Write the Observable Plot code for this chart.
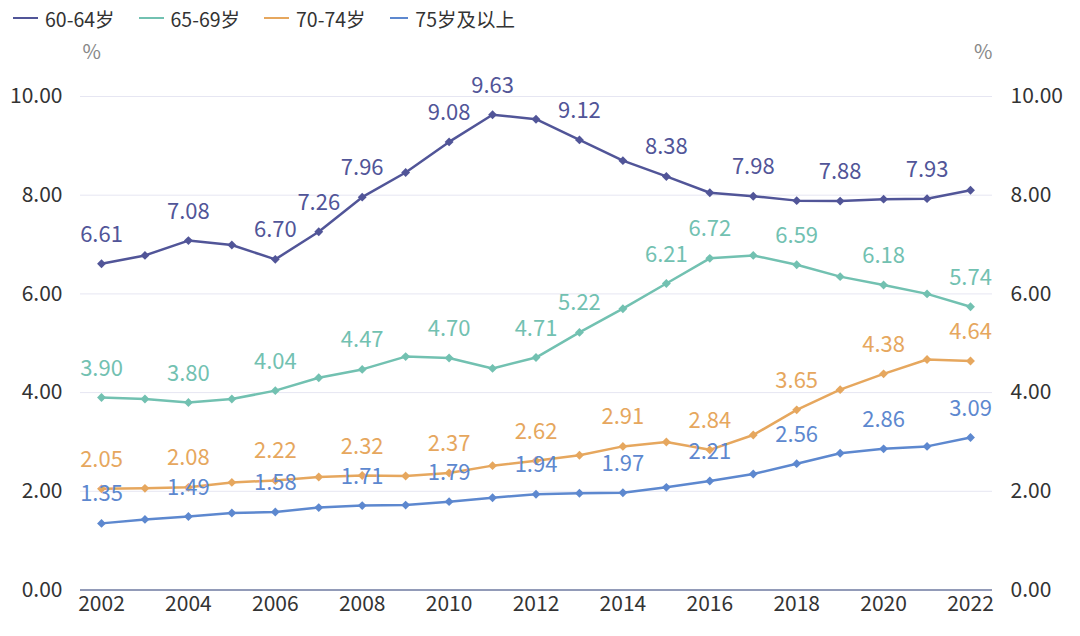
<!DOCTYPE html>
<html>
<head>
<meta charset="utf-8">
<script src="https://cdn.jsdelivr.net/npm/d3@7"></script>
<script src="https://cdn.jsdelivr.net/npm/@observablehq/plot@0.6"></script>
<style>
  html, body { margin: 0; padding: 0; background: #fff; }
  body { width: 1080px; height: 636px; overflow: hidden; font-family: "Noto Sans CJK SC", "Open Sans", sans-serif; }
  #legend { height: 36px; display: flex; align-items: center; padding-left: 13px; box-sizing: border-box; white-space: nowrap; }
  .item { display: flex; align-items: center; width: 125.5px; font-size: 19.5px; color: #333; flex: none; }
  .swatch { width: 25px; height: 2.5px; margin-right: 7px; }
</style>
</head>
<body>
<div id="legend"></div>
<div id="chart"></div>
<script>
const years = [2002,2003,2004,2005,2006,2007,2008,2009,2010,2011,2012,2013,2014,2015,2016,2017,2018,2019,2020,2021,2022];
const seriesNames = ["60-64岁", "65-69岁", "70-74岁", "75岁及以上"];
const colors = ["#515598", "#72c1b1", "#e6a75e", "#5d88cf"];
const v6064 = [6.61,6.78,7.08,6.99,6.70,7.26,7.96,8.46,9.08,9.63,9.54,9.12,8.70,8.38,8.05,7.98,7.89,7.88,7.92,7.93,8.10];
const v6569 = [3.90,3.87,3.80,3.87,4.04,4.30,4.47,4.73,4.70,4.49,4.71,5.22,5.70,6.21,6.72,6.78,6.59,6.35,6.18,6.00,5.74];
const v7074 = [2.05,2.06,2.08,2.18,2.22,2.29,2.32,2.31,2.37,2.52,2.62,2.73,2.91,3.00,2.84,3.14,3.65,4.06,4.38,4.67,4.64];
const v75up = [1.35,1.43,1.49,1.56,1.58,1.67,1.71,1.72,1.79,1.87,1.94,1.96,1.97,2.08,2.21,2.35,2.56,2.77,2.86,2.91,3.09];
const labelYears6064 = [2002,2004,2006,2007,2008,2010,2011,2013,2015,2017,2019,2021];
const labelYears6569 = [2002,2004,2006,2008,2010,2012,2013,2015,2016,2018,2020,2022];
const labelYears7074 = [2002,2004,2006,2008,2010,2012,2014,2016,2018,2020,2022];
const labelYears75up = [2002,2004,2006,2008,2010,2012,2014,2016,2018,2020,2022];
const yTicks = [0,2,4,6,8,10];
const xTicks = [2002,2004,2006,2008,2010,2012,2014,2016,2018,2020,2022];

const valueArrays = [v6064, v6569, v7074, v75up];
const labelYearArrays = [labelYears6064, labelYears6569, labelYears7074, labelYears75up];

const data = [];
valueArrays.forEach((vals, si) => vals.forEach((v, i) => data.push({series: seriesNames[si], year: years[i], value: v})));
const labels = data.filter(d => labelYearArrays[seriesNames.indexOf(d.series)].includes(d.year));

// legend
const legend = document.getElementById("legend");
seriesNames.forEach((n, i) => {
  const it = document.createElement("div");
  it.className = "item";
  it.innerHTML = `<span class="swatch" style="background:${colors[i]}"></span><span>${n}</span>`;
  legend.appendChild(it);
});

const font = `"Noto Sans CJK SC", "Open Sans", sans-serif`;
const chart = Plot.plot({
  width: 1080,
  height: 600,
  marginTop: 60,
  marginBottom: 46.5,
  marginLeft: 80,
  marginRight: 88,
  style: { fontFamily: font, fontSize: "22px", color: "#333", background: "#fff" },
  x: { domain: [2002, 2022], insetLeft: 21, insetRight: 22 },
  y: { domain: [0, 10] },
  color: { domain: seriesNames, range: colors },
  marks: [
    Plot.ruleY(yTicks.filter(t => t > 0), { stroke: "#e6e6f2", strokeWidth: 1 }),
    Plot.ruleY([0], { stroke: "#6e7aa0", strokeWidth: 1.5 }),
    Plot.axisY({ ticks: yTicks, tickFormat: d3.format(".2f"), tickSize: 0, tickPadding: 18, anchor: "left", label: null, fill: "#333", fontSize: 21 }),
    Plot.axisY({ ticks: yTicks, tickFormat: d3.format(".2f"), tickSize: 0, tickPadding: 18, anchor: "right", label: null, fill: "#333", fontSize: 21 }),
    Plot.axisX({ ticks: xTicks, tickFormat: d3.format("d"), tickSize: 0, tickPadding: 6, label: null, fill: "#333", fontSize: 21 }),
    Plot.text(["%"], { frameAnchor: "top-left", dx: 2, dy: -52, fill: "#888", fontSize: 20 }),
    Plot.text(["%"], { frameAnchor: "top-right", dx: 0, dy: -52, fill: "#888", fontSize: 20 }),
    Plot.line(data, { x: "year", y: "value", z: "series", stroke: "series", strokeWidth: 2.5 }),
    Plot.dot(data, { x: "year", y: "value", fill: "series", symbol: "diamond2", r: 4 }),
    Plot.text(labels, { x: "year", y: "value", text: d => d3.format(".2f")(d.value), fill: "series", dy: -29, fontSize: 22 })
  ]
});
document.getElementById("chart").appendChild(chart);
</script>
</body>
</html>
